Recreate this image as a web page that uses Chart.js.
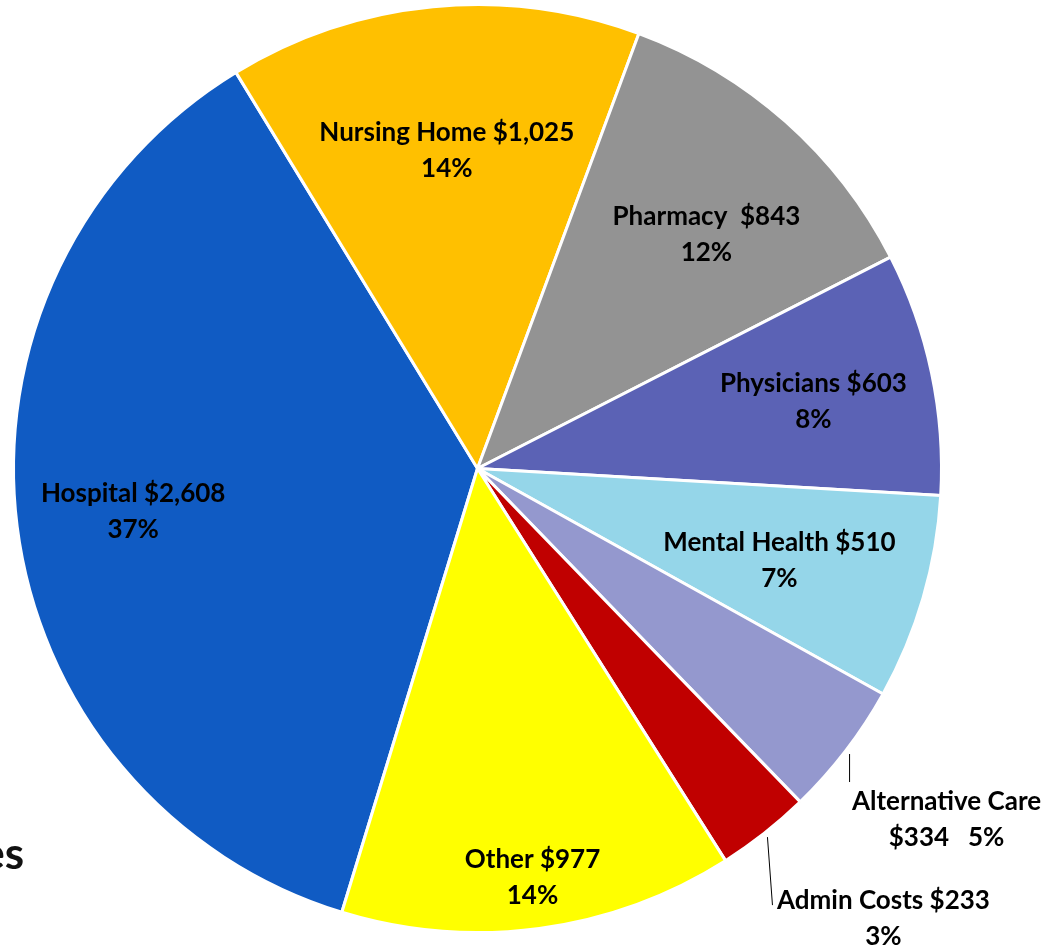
<!DOCTYPE html>
<html>
<head>
<meta charset="utf-8">
<script src="https://cdn.jsdelivr.net/npm/chart.js@4.4.1/dist/chart.umd.min.js"></script>
<style>
  html, body { margin: 0; padding: 0; background: #fff; }
  #wrap { position: relative; width: 1049px; height: 946px; overflow: hidden; }
  #stub {
    position: absolute; right: calc(1049px - 24px); top: 826px;
    font: bold 44px Lato, 'Noto Sans', sans-serif; color: #111; white-space: nowrap;
  }
</style>
</head>
<body>
<div id="wrap">
  <canvas id="pie" width="1049" height="946"></canvas>
  <div id="stub">es</div>
</div>
<script>
const categories = ['Hospital', 'Nursing Home', 'Pharmacy', 'Physicians', 'Mental Health', 'Alternative Care', 'Admin Costs', 'Other'];
const spending = [2608, 1025, 843, 603, 510, 334, 233, 977];
const sliceColors = ['#105BC3', '#FFC000', '#939393', '#5B62B5', '#95D6E9', '#9498CE', '#C00000', '#FFFF00'];

// where each label sits: inside ones by radius fraction (+ small turn in degrees),
// outside ones with a leader line from just past the rim
const labelPlace = [
  { r: 0.748 },
  { r: 0.689 },
  { r: 0.706, turn: 2.7 },
  { r: 0.738, turn: 0.7 },
  { r: 0.68, turn: 0.7 },
  { out: true, lead: [0, 28], text: [97, 48] },
  { out: true, lead: [5, 68], text: [116, 63] },
  { r: 0.89 },
];

const total = spending.reduce((a, b) => a + b, 0);
const money = (v) => '$' + v.toLocaleString('en-US');
const pct = (v) => Math.round((v / total) * 100) + '%';

function labelLines(i) {
  const name = categories[i], v = spending[i];
  if (name === 'Pharmacy') return [name + '  ' + money(v), pct(v)];
  if (name === 'Alternative Care') return [name, money(v) + '   ' + pct(v)];
  return [name + ' ' + money(v), pct(v)];
}

const LINE_GAP = 36;

const sliceLabels = {
  id: 'sliceLabels',
  afterDatasetsDraw(chart) {
    const ctx = chart.ctx;
    const arcs = chart.getDatasetMeta(0).data;
    ctx.save();
    ctx.font = "bold 26px Lato, 'Noto Sans', sans-serif";
    ctx.fillStyle = '#000';
    ctx.textAlign = 'center';
    ctx.textBaseline = 'middle';
    arcs.forEach((arc, i) => {
      const p = labelPlace[i];
      const mid = (arc.startAngle + arc.endAngle) / 2 + ((p.turn || 0) * Math.PI) / 180;
      const lines = labelLines(i);
      let cx, cy;
      if (p.out) {
        const sx = arc.x + Math.cos(mid) * (arc.outerRadius + 5);
        const sy = arc.y + Math.sin(mid) * (arc.outerRadius + 5);
        ctx.strokeStyle = '#000';
        ctx.lineWidth = 1;
        ctx.beginPath();
        ctx.moveTo(sx, sy);
        ctx.lineTo(sx + p.lead[0], sy + p.lead[1]);
        ctx.stroke();
        cx = sx + p.text[0];
        cy = sy + p.text[1] + LINE_GAP / 2;
      } else {
        cx = arc.x + Math.cos(mid) * arc.outerRadius * p.r;
        cy = arc.y + Math.sin(mid) * arc.outerRadius * p.r;
      }
      ctx.fillText(lines[0], cx, cy - LINE_GAP / 2);
      ctx.fillText(lines[1], cx, cy + LINE_GAP / 2);
    });
    ctx.restore();
  },
};

new Chart(document.getElementById('pie'), {
  type: 'pie',
  data: {
    labels: categories,
    datasets: [{
      data: spending,
      backgroundColor: sliceColors,
      borderColor: '#fff',
      borderWidth: 3,
      hoverOffset: 0,
      offset: 0,
    }],
  },
  options: {
    responsive: false,
    animation: false,
    rotation: 197,
    layout: { padding: { left: 12, right: 106, top: 3, bottom: 12 } },
    plugins: { legend: { display: false }, tooltip: { enabled: false } },
  },
  plugins: [sliceLabels],
});
</script>
</body>
</html>
